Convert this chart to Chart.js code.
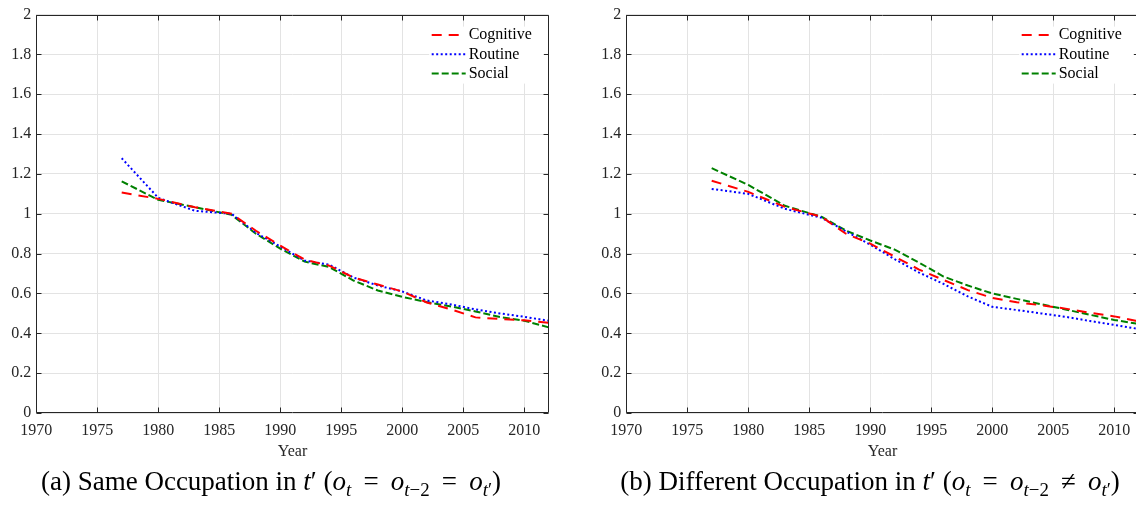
<!DOCTYPE html>
<html lang="en">
<head>
<meta charset="UTF-8">
<title>Occupation profiles</title>
<style>
  body{margin:0;background:#fff;overflow:hidden}
  #wrap{position:relative;width:1136px;height:506px;overflow:hidden}
  canvas{position:absolute;top:0}
  #c1{left:0}
  #c2{left:590px}
  .cap{position:absolute;top:468px;transform:translateX(-50%);font-family:"Liberation Serif",serif;font-size:27px;color:#000;white-space:nowrap;line-height:1}
  .cap sub{font-size:70%;line-height:0}
  .cap .rel{margin:0 0.45em}
</style>
</head>
<body>
<div id="wrap">
  <canvas id="c1" width="570" height="506"></canvas>
  <canvas id="c2" width="570" height="506"></canvas>
  <div class="cap" style="left:271px">(a) Same Occupation in <i>t</i>′ (<i>o<sub>t</sub></i><span class="rel">=</span><i>o</i><sub><i>t</i>−2</sub><span class="rel">=</span><i>o</i><sub><i>t</i>′</sub>)</div>
  <div class="cap" style="left:870px">(b) Different Occupation in <i>t</i>′ (<i>o<sub>t</sub></i><span class="rel">=</span><i>o</i><sub><i>t</i>−2</sub><span class="rel">≠</span><i>o</i><sub><i>t</i>′</sub>)</div>
</div>

<script src="https://cdn.jsdelivr.net/npm/chart.js"></script>
<script>
const years = [1977, 1980, 1983, 1986, 1988, 1990, 1992, 1994, 1996, 1998, 2000, 2002, 2004, 2006, 2008, 2010, 2012]

// (a) same occupation
const sameCognitive = [1.107, 1.075, 1.033, 1.0, 0.915, 0.84, 0.77, 0.74, 0.68, 0.645, 0.61, 0.555, 0.52, 0.48, 0.472, 0.465, 0.453]
const sameRoutine   = [1.279, 1.08, 1.015, 1.0, 0.905, 0.835, 0.765, 0.745, 0.68, 0.64, 0.61, 0.565, 0.545, 0.52, 0.50, 0.483, 0.463]
const sameSocial    = [1.163, 1.07, 1.033, 0.995, 0.90, 0.825, 0.76, 0.733, 0.665, 0.615, 0.583, 0.557, 0.535, 0.51, 0.482, 0.463, 0.43]

// (b) different occupation
const diffCognitive = [1.166, 1.11, 1.035, 0.985, 0.90, 0.85, 0.785, 0.72, 0.668, 0.617, 0.578, 0.556, 0.541, 0.524, 0.503, 0.485, 0.46]
const diffRoutine   = [1.125, 1.10, 1.025, 0.98, 0.912, 0.845, 0.772, 0.705, 0.648, 0.585, 0.533, 0.517, 0.50, 0.483, 0.462, 0.442, 0.422]
const diffSocial    = [1.229, 1.145, 1.04, 0.985, 0.916, 0.866, 0.82, 0.755, 0.685, 0.64, 0.60, 0.573, 0.546, 0.52, 0.493, 0.467, 0.447]

const seriesNames = ['Cognitive', 'Routine', 'Social']
const seriesColors = ['#ff0000', '#0000ff', '#008000']
const seriesDashes = [[10, 7], [2, 2.5], [7, 3]]

const FONT = '"Liberation Serif", "Times New Roman", serif'
const AXIS = '#262626'

function points(vals){ return years.map((yr, i) => ({x: yr, y: vals[i]})) }

// box round the plot with inward tick marks on all four sides, plus the legend
const frame = {
  id: 'frame',
  afterDatasetsDraw(chart){
    const {ctx, chartArea: a, scales: {x, y}} = chart
    const L = Math.round(a.left) + 0.5, R = Math.round(a.right) - 0.5
    const T = Math.round(a.top) + 0.5, B = Math.round(a.bottom) - 0.5
    ctx.save()
    ctx.strokeStyle = AXIS
    ctx.lineWidth = 1
    ctx.beginPath()
    x.ticks.forEach(t => {
      const px = Math.round(x.getPixelForValue(t.value)) + 0.5
      ctx.moveTo(px, B); ctx.lineTo(px, B - 5)
      ctx.moveTo(px, T); ctx.lineTo(px, T + 5)
    })
    y.ticks.forEach(t => {
      const py = Math.round(y.getPixelForValue(t.value)) + 0.5
      ctx.moveTo(L, py); ctx.lineTo(L + 5, py)
      ctx.moveTo(R, py); ctx.lineTo(R - 5, py)
    })
    ctx.rect(L, T, R - L, B - T)
    ctx.stroke()
    ctx.restore()
  },
  afterDraw(chart){
    const {ctx, chartArea: a} = chart
    const bx = a.right - 119.5, by = a.top + 12
    ctx.save()
    ctx.fillStyle = '#fff'
    ctx.fillRect(bx, by, 114.5, 57)
    ctx.font = '16px ' + FONT
    ctx.textBaseline = 'middle'
    chart.data.datasets.forEach((ds, i) => {
      const ly = a.top + 20.5 + i * 19.2
      ctx.strokeStyle = ds.borderColor
      ctx.lineWidth = 2
      ctx.setLineDash(ds.borderDash)
      ctx.beginPath()
      ctx.moveTo(a.right - 117, ly); ctx.lineTo(a.right - 83, ly)
      ctx.stroke()
      ctx.fillStyle = '#000'
      ctx.fillText(ds.label, a.right - 80, ly)
    })
    ctx.restore()
  }
}

function makeChart(id, sets){
  return new Chart(document.getElementById(id), {
    type: 'line',
    data: {
      datasets: sets.map((vals, i) => ({
        label: seriesNames[i],
        data: points(vals),
        borderColor: seriesColors[i],
        borderDash: seriesDashes[i],
        borderWidth: 2,
        pointRadius: 0,
        tension: 0,
        fill: false
      }))
    },
    options: {
      responsive: false,
      animation: false,
      layout: {padding: {left: 0.3, right: 21.3, top: 10.6, bottom: 43}},
      plugins: {legend: {display: false}, tooltip: {enabled: false}},
      scales: {
        x: {
          type: 'linear', min: 1970, max: 2012,
          afterFit: s => { s.height = 50 },
          grid: {color: '#e3e3e3', drawTicks: false},
          border: {display: false},
          ticks: {stepSize: 5, includeBounds: false, padding: 8, color: AXIS,
                  font: {family: FONT, size: 16}, maxRotation: 0,
                  callback: v => String(v)},
          title: {display: true, text: 'Year', color: AXIS, padding: {top: 0, bottom: 2},
                  font: {family: FONT, size: 16}}
        },
        y: {
          min: 0, max: 2,
          afterFit: s => { s.width = 36 },
          grid: {color: '#e3e3e3', drawTicks: false},
          border: {display: false},
          ticks: {stepSize: 0.2, padding: 5, color: AXIS,
                  font: {family: FONT, size: 16},
                  callback: v => String(+v.toFixed(1))}
        }
      }
    },
    plugins: [frame]
  })
}

makeChart('c1', [sameCognitive, sameRoutine, sameSocial])
makeChart('c2', [diffCognitive, diffRoutine, diffSocial])
</script>
</body>
</html>
